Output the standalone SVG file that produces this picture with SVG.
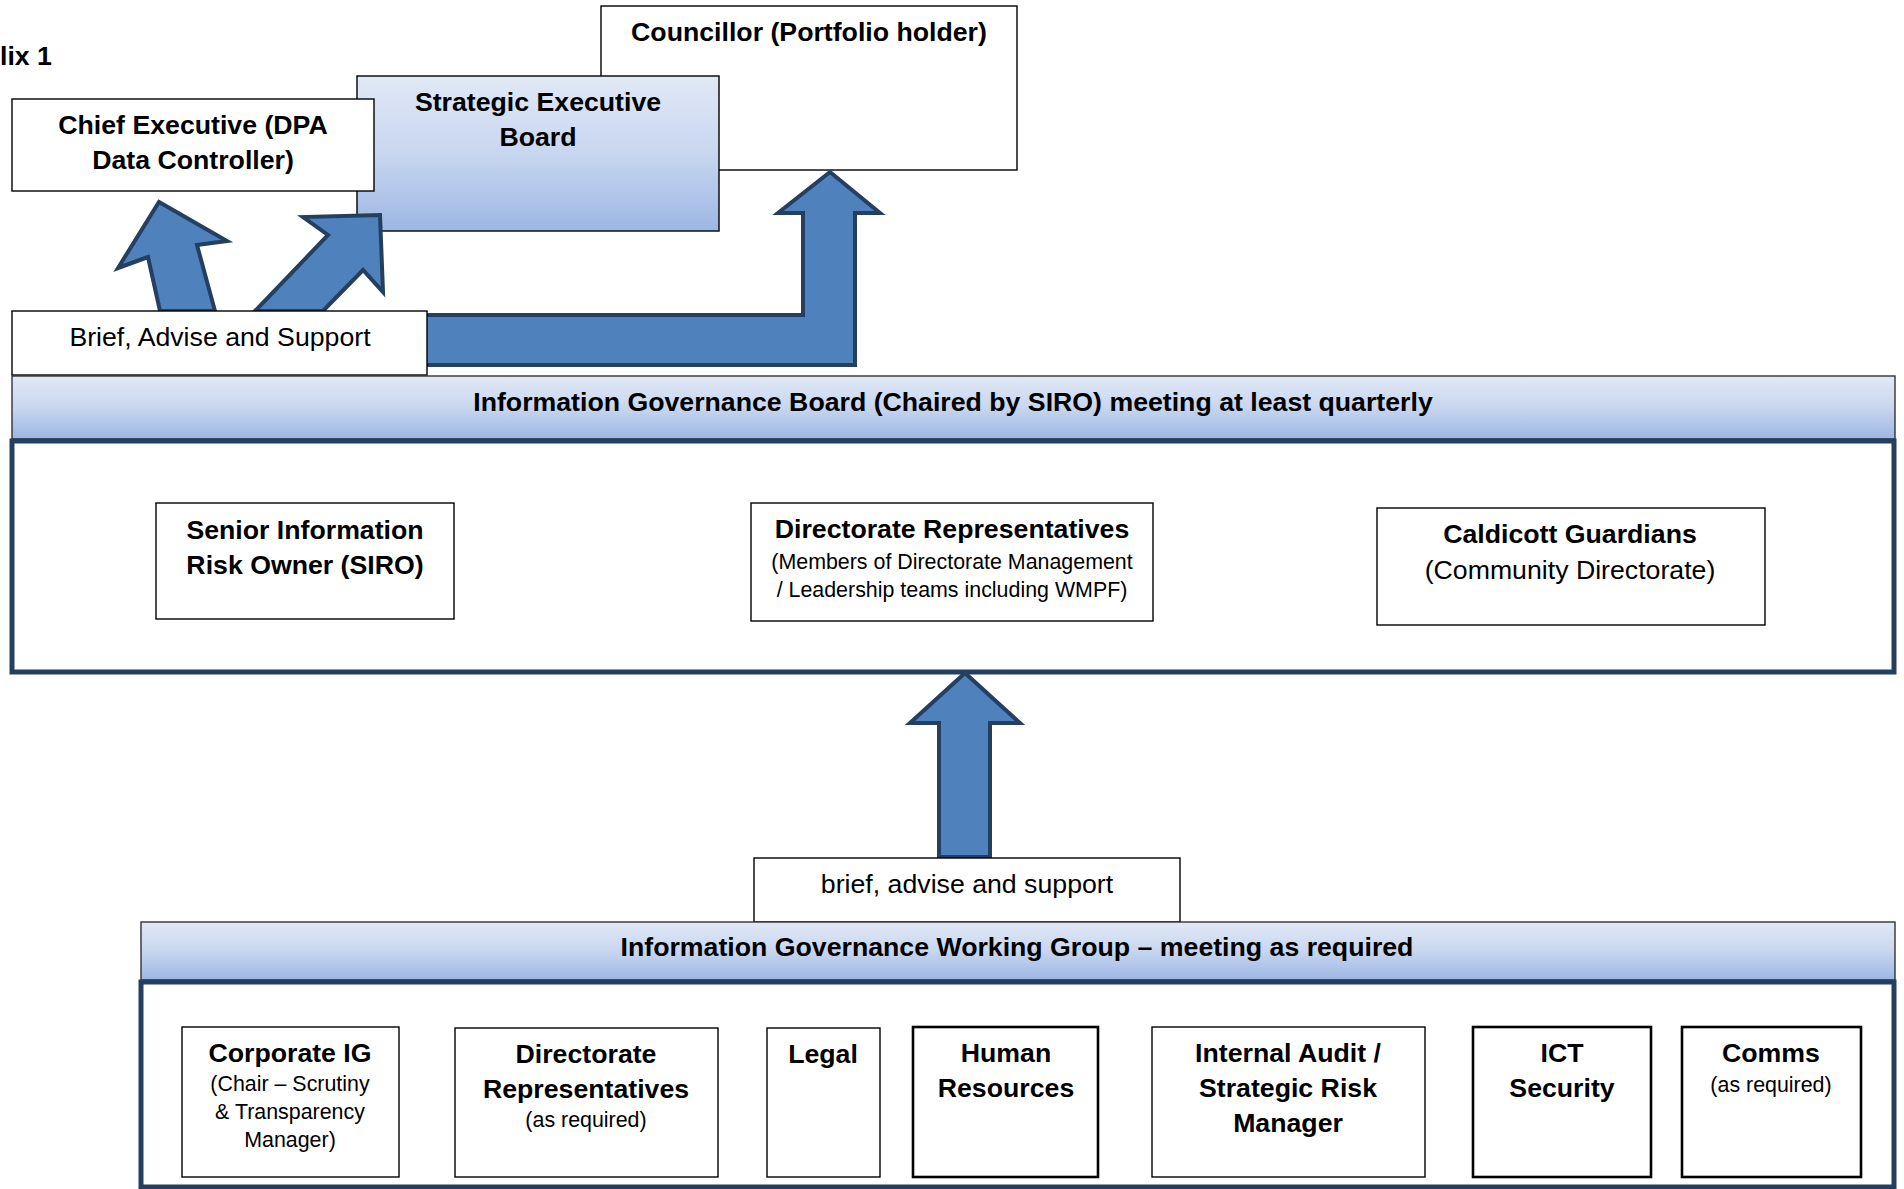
<svg xmlns="http://www.w3.org/2000/svg" width="1904" height="1189" viewBox="0 0 1904 1189">
<defs>
<linearGradient id="hdr" x1="0" y1="0" x2="0" y2="1">
<stop offset="0" stop-color="#e1e9f6"/>
<stop offset="0.5" stop-color="#c8d6ef"/>
<stop offset="1" stop-color="#9cb7e4"/>
</linearGradient>
<style>
text{font-family:"Liberation Sans",Arial,sans-serif;fill:#000;text-anchor:middle}
.b{font-weight:bold;font-size:26.7px}
.r{font-size:26.7px}
.s{font-size:21.4px}
.box{fill:#fff;stroke:#000;stroke-width:1.4}
.boxt{fill:#fff;stroke:#000;stroke-width:2.6}
.hdr{fill:url(#hdr);stroke:#333;stroke-width:1.4}
.cont{fill:#fff;stroke:#243f60;stroke-width:5}
.arrow{fill:#4f81bd;stroke:#243f60;stroke-width:4;stroke-linejoin:miter}
</style>
</defs>
<rect width="1904" height="1189" fill="#fff"/>
<text x="0" y="65" class="b" style="text-anchor:start">lix 1</text>

<g id="councillor">
<rect class="box" x="601" y="6" width="416" height="164"/>
<text x="809" y="41" class="b">Councillor (Portfolio holder)</text>
</g>
<g id="seb">
<rect class="hdr" x="357" y="76" width="362" height="155" style="stroke:#000"/>
<text x="538" y="111" class="b">Strategic Executive</text>
<text x="538" y="146" class="b">Board</text>
</g>
<g id="chief">
<rect class="box" x="12" y="99" width="362" height="92"/>
<text x="193" y="134" class="b">Chief Executive (DPA</text>
<text x="193" y="169" class="b">Data Controller)</text>
</g>

<g id="connectors">
<polygon class="arrow" points="160,311 148,257 118,268 159,202 227,241 197,245 215,311"/>
<polygon class="arrow" points="255,311 328,235 303,217 380,215 383,292 363,270 323,311"/>
<polygon class="arrow" points="424,315 803,315 803,213 778,213 830,172 880,213 855,213 855,365 424,365"/>
<polygon class="arrow" points="939,857 939,723 910,723 965,673 1020,723 990,723 990,857"/>
</g>

<g id="brief1">
<rect class="box" x="12" y="311" width="415" height="64"/>
<text x="220" y="346" class="r">Brief, Advise and Support</text>
</g>

<g id="igb">
<rect class="hdr" x="12" y="376" width="1883" height="63"/>
<text x="953" y="411" class="b">Information Governance Board (Chaired by SIRO) meeting at least quarterly</text>
<rect class="cont" x="12" y="441" width="1882" height="231"/>
</g>
<g id="siro">
<rect class="box" x="156" y="503" width="298" height="116"/>
<text x="305" y="539" class="b">Senior Information</text>
<text x="305" y="574" class="b">Risk Owner (SIRO)</text>
</g>
<g id="dirrep1">
<rect class="box" x="751" y="503" width="402" height="118"/>
<text x="952" y="538" class="b">Directorate Representatives</text>
<text x="952" y="569" class="s">(Members of Directorate Management</text>
<text x="952" y="597" class="s">/ Leadership teams including WMPF)</text>
</g>
<g id="caldicott">
<rect class="box" x="1377" y="508" width="388" height="117"/>
<text x="1570" y="543" class="b">Caldicott Guardians</text>
<text x="1570" y="579" class="r">(Community Directorate)</text>
</g>

<g id="brief2">
<rect class="box" x="754" y="858" width="426" height="64"/>
<text x="967" y="893" class="r">brief, advise and support</text>
</g>

<g id="igwg">
<rect class="hdr" x="141" y="922" width="1754" height="58"/>
<text x="1017" y="956" class="b">Information Governance Working Group – meeting as required</text>
<rect class="cont" x="141" y="982" width="1753" height="205"/>
</g>
<g id="corpig">
<rect class="box" x="182" y="1027" width="217" height="150"/>
<text x="290" y="1062" class="b">Corporate IG</text>
<text x="290" y="1091" class="s">(Chair – Scrutiny</text>
<text x="290" y="1119" class="s">&amp; Transparency</text>
<text x="290" y="1147" class="s">Manager)</text>
</g>
<g id="dirrep2">
<rect class="box" x="455" y="1028" width="263" height="149"/>
<text x="586" y="1063" class="b">Directorate</text>
<text x="586" y="1098" class="b">Representatives</text>
<text x="586" y="1127" class="s">(as required)</text>
</g>
<g id="legal">
<rect class="box" x="767" y="1028" width="113" height="149"/>
<text x="823" y="1063" class="b">Legal</text>
</g>
<g id="hr">
<rect class="boxt" x="913" y="1027" width="185" height="150"/>
<text x="1006" y="1062" class="b">Human</text>
<text x="1006" y="1097" class="b">Resources</text>
</g>
<g id="audit">
<rect class="box" x="1152" y="1027" width="273" height="150"/>
<text x="1288" y="1062" class="b">Internal Audit /</text>
<text x="1288" y="1097" class="b">Strategic Risk</text>
<text x="1288" y="1132" class="b">Manager</text>
</g>
<g id="ict">
<rect class="boxt" x="1473" y="1027" width="178" height="150"/>
<text x="1562" y="1062" class="b">ICT</text>
<text x="1562" y="1097" class="b">Security</text>
</g>
<g id="comms">
<rect class="boxt" x="1682" y="1027" width="179" height="150"/>
<text x="1771" y="1062" class="b">Comms</text>
<text x="1771" y="1092" class="s">(as required)</text>
</g>
</svg>
